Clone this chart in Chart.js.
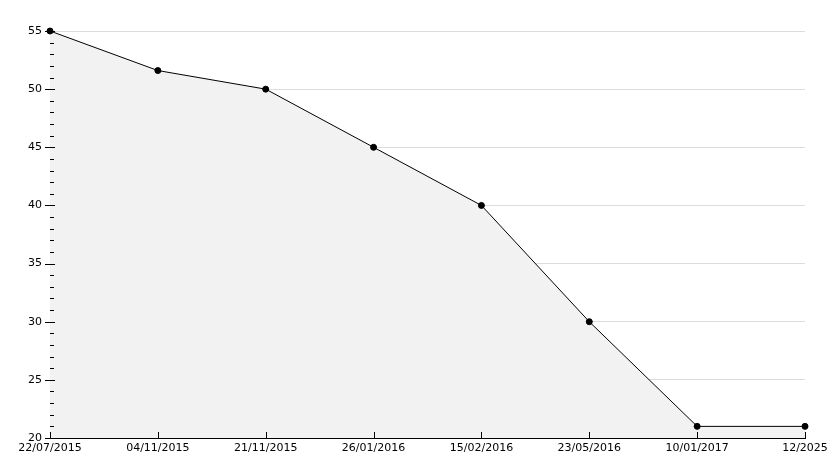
<!DOCTYPE html>
<html>
<head>
<meta charset="utf-8">
<script src="https://cdn.jsdelivr.net/npm/chart.js@4/dist/chart.umd.min.js"></script>
<style>
html,body{margin:0;padding:0;background:#fff;}
#wrap{width:834px;height:468px;}
</style>
</head>
<body>
<div id="wrap"><canvas id="c" width="834" height="468"></canvas></div>
<script>
const categories = ["22/07/2015","04/11/2015","21/11/2015","26/01/2016","15/02/2016","23/05/2016","10/01/2017","12/2025"];
const values = [55, 51.6, 50, 45, 40, 30, 21, 21];
const yMin = 20, yMax = 55, yStep = 5;

const tickPlugin = {
  id: 'customTicks',
  afterDraw(chart) {
    const ctx = chart.ctx;
    const x = chart.scales.x, y = chart.scales.y;
    const area = chart.chartArea;
    ctx.save();
    ctx.strokeStyle = '#000';
    ctx.lineWidth = 1;
    ctx.beginPath();
    for (let v = yMin; v <= yMax; v++) {
      const py = Math.round(y.getPixelForValue(v)) + 0.5;
      const major = (v % yStep === 0);
      const lx = Math.round(area.left);
      ctx.moveTo(lx - (major ? 5 : 0), py);
      ctx.lineTo(lx + (major ? 5 : 4), py);
    }
    for (let i = 0; i < categories.length; i++) {
      const px = Math.round(x.getPixelForValue(i)) + 0.5;
      const by = Math.round(area.bottom);
      ctx.moveTo(px, by);
      ctx.lineTo(px, by - 6);
    }
    ctx.stroke();
    ctx.restore();
  }
};

new Chart(document.getElementById('c'), {
  type: 'line',
  data: {
    labels: categories,
    datasets: [{
      data: values,
      borderColor: '#000',
      borderWidth: 1,
      backgroundColor: '#f2f2f2',
      fill: 'start',
      tension: 0,
      pointRadius: 3,
      pointBackgroundColor: '#000',
      pointBorderColor: '#000',
      pointBorderWidth: 1,
      clip: false
    }]
  },
  options: {
    responsive: false,
    animation: false,
    devicePixelRatio: 1,
    layout: { padding: { top: 31, right: 29, left: 0, bottom: 0 } },
    plugins: { legend: { display: false }, tooltip: { enabled: false } },
    scales: {
      x: {
        offset: false,
        grid: { display: false, drawTicks: false },
        border: { display: true, color: '#000', width: 1 },
        ticks: { color: '#000', font: { family: 'DejaVu Sans', size: 11 }, maxRotation: 0, autoSkip: false, padding: 4 },
        afterFit(s) { s.height = 30; }
      },
      y: {
        min: yMin, max: yMax,
        grid: { color: '#dcdcdc', drawTicks: false },
        border: { display: true, color: '#000', width: 1 },
        ticks: { stepSize: yStep, color: '#000', font: { family: 'DejaVu Sans', size: 11 }, padding: 8 },
        afterFit(s) { s.width = 50; }
      }
    }
  },
  plugins: [tickPlugin]
});
</script>
</body>
</html>
